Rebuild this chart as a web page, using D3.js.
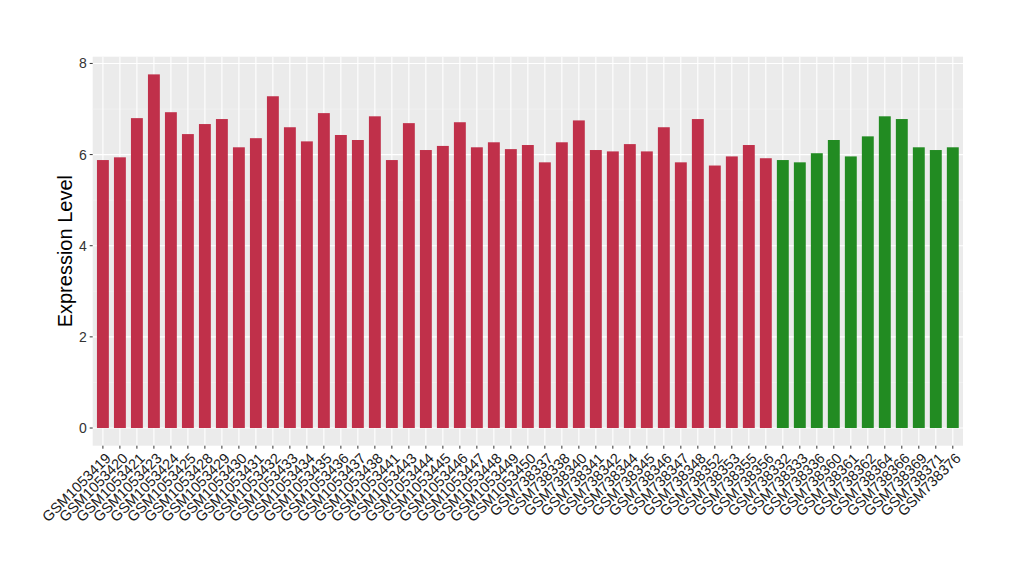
<!DOCTYPE html>
<html>
<head>
<meta charset="utf-8">
<script src="https://cdn.jsdelivr.net/npm/d3@7"></script>
<style>
  body { margin: 0; background: #fff; }
  text { font-family: "Liberation Sans", Arial, sans-serif; }
</style>
</head>
<body>
<div id="chart"></div>
<script>
// sample ids and expression values
var samples = [
  "GSM1053419","GSM1053420","GSM1053421","GSM1053423","GSM1053424","GSM1053425",
  "GSM1053428","GSM1053429","GSM1053430","GSM1053431","GSM1053432","GSM1053433",
  "GSM1053434","GSM1053435","GSM1053436","GSM1053437","GSM1053438","GSM1053441",
  "GSM1053443","GSM1053444","GSM1053445","GSM1053446","GSM1053447","GSM1053448",
  "GSM1053449","GSM1053450","GSM738337","GSM738338","GSM738340","GSM738341",
  "GSM738342","GSM738344","GSM738345","GSM738346","GSM738347","GSM738348",
  "GSM738352","GSM738353","GSM738355","GSM738356",
  "GSM738332","GSM738333","GSM738336","GSM738360","GSM738361","GSM738362",
  "GSM738364","GSM738366","GSM738369","GSM738371","GSM738376"
];
var values = [
  5.88, 5.94, 6.80, 7.76, 6.93, 6.45, 6.67, 6.78, 6.16, 6.36, 7.28, 6.60,
  6.29, 6.91, 6.43, 6.32, 6.84, 5.88, 6.69, 6.10, 6.19, 6.71, 6.16, 6.27,
  6.12, 6.21, 5.83, 6.27, 6.75, 6.10, 6.07, 6.23, 6.07, 6.60, 5.83, 6.78,
  5.76, 5.96, 6.21, 5.92,
  5.88, 5.83, 6.03, 6.32, 5.96, 6.40, 6.84, 6.78, 6.16, 6.10, 6.16
];
var groups = samples.map(function(d, i) { return i < 40 ? "A" : "B"; });
var yTicks = [0, 2, 4, 6, 8];
var yMinor = [1, 3, 5, 7];

var colors = { A: "#C0304A", B: "#228B22" };

var width = 1020, height = 580;
var panel = { left: 92.7, right: 963, top: 56.7, bottom: 445.7 };

var svg = d3.select("#chart").append("svg")
    .attr("width", width)
    .attr("height", height);

var x = d3.scalePoint()
    .domain(samples)
    .range([panel.left, panel.right])
    .padding(0.6);

var maxV = d3.max(values);
var y = d3.scaleLinear()
    .domain([-0.05 * maxV, maxV * 1.05])
    .range([panel.bottom, panel.top]);

var barW = x.step() * 0.7;

// panel background
svg.append("rect")
    .attr("x", panel.left)
    .attr("y", panel.top)
    .attr("width", panel.right - panel.left)
    .attr("height", panel.bottom - panel.top)
    .attr("fill", "#EBEBEB");

// minor grid
svg.selectAll(".minor")
    .data(yMinor)
    .enter().append("line")
    .attr("x1", panel.left).attr("x2", panel.right)
    .attr("y1", function(d) { return y(d); })
    .attr("y2", function(d) { return y(d); })
    .attr("stroke", "#F5F5F5")
    .attr("stroke-width", 0.6);

// major grid
svg.selectAll(".hmajor")
    .data(yTicks)
    .enter().append("line")
    .attr("x1", panel.left).attr("x2", panel.right)
    .attr("y1", function(d) { return y(d); })
    .attr("y2", function(d) { return y(d); })
    .attr("stroke", "#fff")
    .attr("stroke-width", 1.1);

svg.selectAll(".vmajor")
    .data(samples)
    .enter().append("line")
    .attr("x1", function(d) { return x(d); })
    .attr("x2", function(d) { return x(d); })
    .attr("y1", panel.top).attr("y2", panel.bottom)
    .attr("stroke", "#fff")
    .attr("stroke-width", 1.1);

// bars
svg.selectAll(".bar")
    .data(samples)
    .enter().append("rect")
    .attr("x", function(d) { return x(d) - barW / 2; })
    .attr("width", barW)
    .attr("y", function(d, i) { return y(values[i]); })
    .attr("height", function(d, i) { return y(0) - y(values[i]); })
    .attr("fill", function(d, i) { return colors[groups[i]]; });

// y axis ticks + labels
var yAxis = svg.append("g");
yAxis.selectAll("line")
    .data(yTicks)
    .enter().append("line")
    .attr("x1", panel.left - 3).attr("x2", panel.left)
    .attr("y1", function(d) { return y(d); })
    .attr("y2", function(d) { return y(d); })
    .attr("stroke", "#333")
    .attr("stroke-width", 1);
yAxis.selectAll("text")
    .data(yTicks)
    .enter().append("text")
    .attr("x", panel.left - 6)
    .attr("y", function(d) { return y(d); })
    .attr("dy", "0.36em")
    .attr("text-anchor", "end")
    .attr("font-size", 14)
    .attr("fill", "#333")
    .text(function(d) { return d; });

// x axis ticks + labels
var xAxis = svg.append("g");
xAxis.selectAll("line")
    .data(samples)
    .enter().append("line")
    .attr("x1", function(d) { return x(d); })
    .attr("x2", function(d) { return x(d); })
    .attr("y1", panel.bottom).attr("y2", panel.bottom + 3)
    .attr("stroke", "#333")
    .attr("stroke-width", 1);
xAxis.selectAll("text")
    .data(samples)
    .enter().append("text")
    .attr("transform", function(d) {
        return "translate(" + (x(d) + 1.5) + "," + (panel.bottom + 6) + ") rotate(-45)";
    })
    .attr("text-anchor", "end")
    .attr("dy", "0.72em")
    .attr("font-size", 14.6)
    .attr("fill", "#1a1a1a")
    .text(function(d) { return d; });

// y title
svg.append("text")
    .attr("transform", "translate(72," + ((panel.top + panel.bottom) / 2) + ") rotate(-90)")
    .attr("text-anchor", "middle")
    .attr("font-size", 20)
    .attr("fill", "#000")
    .text("Expression Level");
</script>
</body>
</html>
